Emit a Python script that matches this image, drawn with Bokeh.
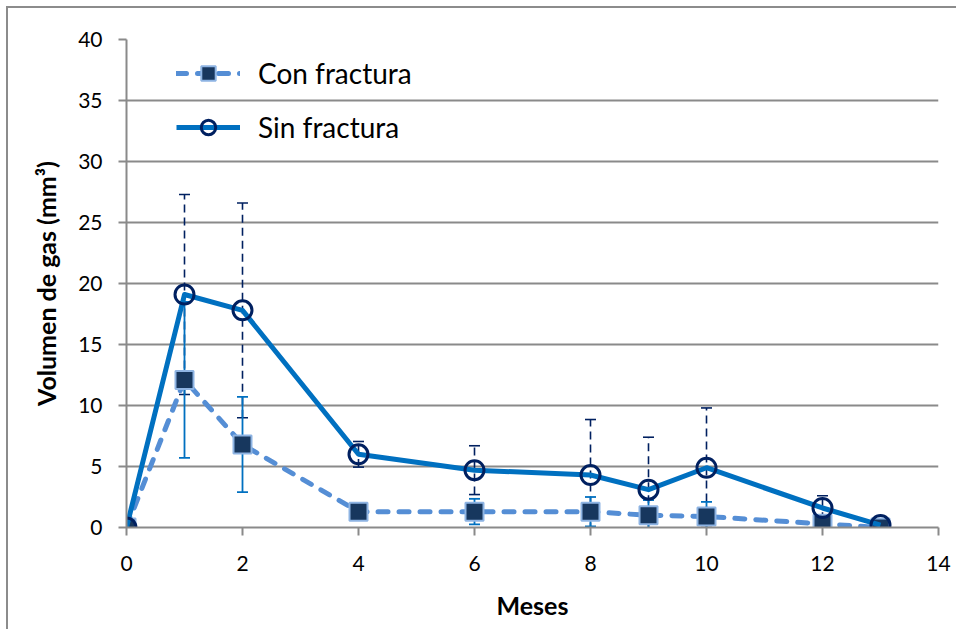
from bokeh.plotting import figure
from bokeh.models import (ColumnDataSource, Legend, LegendItem, Range1d,
                          FixedTicker)
from bokeh.embed import file_html
from bokeh.resources import INLINE
import numpy as np

# Months after surgery
meses = [0, 1, 2, 4, 6, 8, 9, 10, 12, 13]

# Gas volume (mm³), mean and standard deviation
con_fractura = [0.0, 12.1, 6.8, 1.3, 1.3, 1.3, 1.0, 0.9, 0.3, 0.0]
con_fractura_sd = [0.0, 6.4, 3.9, 0.2, 1.05, 1.2, 1.25, 1.2, 0.2, 0.0]
sin_fractura = [0.0, 19.1, 17.8, 6.0, 4.7, 4.3, 3.1, 4.9, 1.6, 0.2]
sin_fractura_sd = [0.0, 8.2, 8.8, 1.05, 2.0, 4.55, 4.3, 4.9, 1.0, 0.1]

x_ticks = [0, 2, 4, 6, 8, 10, 12, 14]
y_ticks = [0, 5, 10, 15, 20, 25, 30, 35, 40]

FONT = "Lato"
GRID = "#8a8a8a"
C_CON_LINE = "#558ED5"
C_CON_FILL = "#17375E"
C_CON_EDGE = "#8EB4E3"
C_SIN_LINE = "#0070C0"
C_SIN_MARK = "#002060"


def err_source(x, m, sd):
    m = np.array(m)
    sd = np.array(sd)
    return ColumnDataSource(dict(x=x, lo=m - sd, hi=m + sd))


# chart area with a thin grey frame on its top and left edges
p = figure(width=950, height=623, output_backend="svg", toolbar_location=None,
           x_range=Range1d(0, 14), y_range=Range1d(0, 40),
           min_border_left=118, min_border_right=20,
           min_border_top=31, min_border_bottom=104)
p.margin = (6, 0, 0, 6)
p.styles = {"border-top": "2px solid #8c8c8c", "border-left": "2px solid #8c8c8c"}
p.outline_line_color = None
p.background_fill_color = "white"
p.border_fill_color = "white"

# axes
p.xaxis.ticker = FixedTicker(ticks=x_ticks)
p.yaxis.ticker = FixedTicker(ticks=y_ticks)
for ax in (p.xaxis[0], p.yaxis[0]):
    ax.axis_line_color = GRID
    ax.axis_line_width = 2
    ax.major_tick_line_color = GRID
    ax.major_tick_line_width = 2
    ax.major_tick_out = 8
    ax.major_tick_in = 0
    ax.minor_tick_line_color = None
    ax.major_label_text_font = FONT
    ax.major_label_text_font_size = "21px"
    ax.major_label_text_color = "black"
    ax.axis_label_text_font = FONT
    ax.axis_label_text_font_style = "bold"
    ax.axis_label_text_font_size = "25px"
    ax.axis_label_text_color = "black"
p.xaxis.axis_label = "Meses"
p.yaxis.axis_label = "Volumen de gas (mm³)"
p.xaxis.major_label_standoff = 20
p.yaxis.major_label_standoff = 16
p.xaxis.axis_label_standoff = 16
p.yaxis.axis_label_standoff = 14

p.xgrid.grid_line_color = None
p.ygrid.grid_line_color = GRID
p.ygrid.grid_line_width = 2

# error bars, "sin fractura" (dashed navy) and "con fractura" (solid blue)
es = err_source(meses, sin_fractura, sin_fractura_sd)
p.segment(x0="x", y0="lo", x1="x", y1="hi", source=es,
          line_color=C_SIN_MARK, line_width=1.6, line_dash="8 5")
p.scatter(x="x", y="hi", source=es, marker="dash", size=11,
          line_color=C_SIN_MARK, line_width=1.6)
p.scatter(x="x", y="lo", source=es, marker="dash", size=11,
          line_color=C_SIN_MARK, line_width=1.6)

ec = err_source(meses, con_fractura, con_fractura_sd)
p.segment(x0="x", y0="lo", x1="x", y1="hi", source=ec,
          line_color=C_SIN_LINE, line_width=1.8)
p.scatter(x="x", y="hi", source=ec, marker="dash", size=11,
          line_color=C_SIN_LINE, line_width=1.8)
p.scatter(x="x", y="lo", source=ec, marker="dash", size=11,
          line_color=C_SIN_LINE, line_width=1.8)

# series
src_con = ColumnDataSource(dict(x=meses, y=con_fractura))
src_sin = ColumnDataSource(dict(x=meses, y=sin_fractura))

l_con = p.line("x", "y", source=src_con, line_color=C_CON_LINE, line_width=5,
               line_dash="10 11", line_cap="round")
m_con = p.scatter("x", "y", source=src_con, marker="square", size=18,
                  fill_color=C_CON_FILL, line_color=C_CON_EDGE, line_width=2)
l_sin = p.line("x", "y", source=src_sin, line_color=C_SIN_LINE, line_width=5,
               line_join="round")
m_sin = p.scatter("x", "y", source=src_sin, marker="circle", size=19,
                  fill_color=None, line_color=C_SIN_MARK, line_width=3)

legend = Legend(items=[LegendItem(label="Con fractura", renderers=[l_con, m_con]),
                       LegendItem(label="Sin fractura", renderers=[l_sin, m_sin])],
                location=(50, 382))
legend.border_line_color = None
legend.background_fill_alpha = 0
legend.label_text_font = FONT
legend.label_text_font_size = "28px"
legend.label_text_color = "black"
legend.glyph_width = 64
legend.glyph_height = 36
legend.label_height = 36
legend.spacing = 18
legend.label_standoff = 18
legend.padding = 8
legend.margin = 0
p.add_layout(legend, "center")

open("out.html", "w").write(file_html(p, INLINE))
